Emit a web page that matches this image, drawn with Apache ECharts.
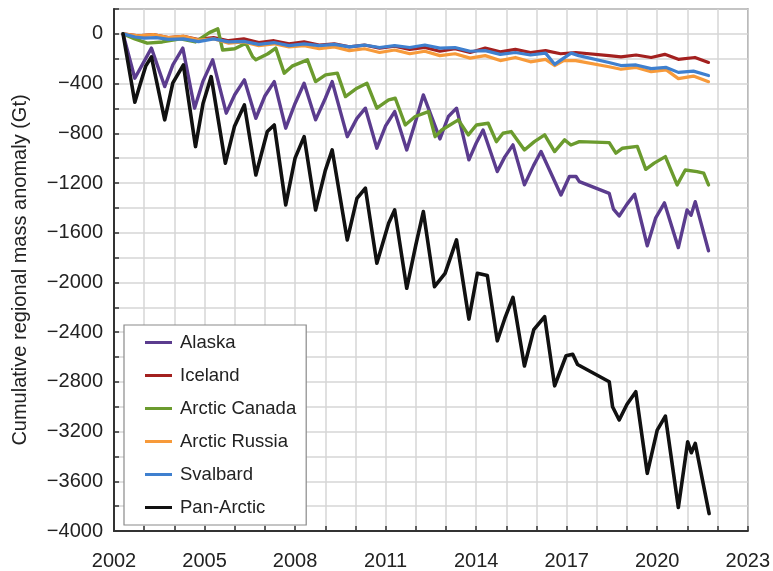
<!DOCTYPE html>
<html>
<head>
<meta charset="utf-8">
<script src="https://cdn.jsdelivr.net/npm/echarts@6/dist/echarts.min.js"></script>
<style>
html,body{margin:0;padding:0;background:#fff;}
#chart{width:773px;height:571px;}
</style>
</head>
<body>
<div id="chart"></div>
<script>
// ---- data (year, Gt) ----
const seriesNames = ['Alaska', 'Iceland', 'Arctic Canada', 'Arctic Russia', 'Svalbard', 'Pan-Arctic'];

const alaska = [[2002.3,0],[2002.69,-357],[2003.24,-115],[2003.68,-424],[2003.95,-250],[2004.28,-115],[2004.67,-598],[2004.95,-380],[2005.27,-209],[2005.72,-638],[2006.0,-490],[2006.32,-370],[2006.7,-679],[2007.0,-500],[2007.31,-384],[2007.69,-759],[2008.0,-560],[2008.3,-397],[2008.68,-692],[2009.0,-520],[2009.23,-384],[2009.73,-827],[2010.05,-680],[2010.33,-598],[2010.71,-920],[2011.0,-740],[2011.3,-625],[2011.7,-934],[2012.0,-700],[2012.25,-491],[2012.8,-845],[2013.08,-665],[2013.35,-598],[2013.76,-1014],[2014.0,-880],[2014.23,-773],[2014.7,-1108],[2014.95,-990],[2015.22,-893],[2015.6,-1215],[2015.9,-1060],[2016.15,-947],[2016.81,-1296],[2017.09,-1148],[2017.31,-1148],[2017.42,-1189],[2018.41,-1283],[2018.55,-1410],[2018.74,-1465],[2019.0,-1370],[2019.25,-1290],[2019.67,-1705],[2019.95,-1480],[2020.24,-1360],[2020.7,-1720],[2020.99,-1417],[2021.12,-1460],[2021.26,-1350],[2021.7,-1745]];

const iceland = [[2002.3,0],[2002.8,-15],[2003.3,-5],[2003.8,-30],[2004.3,-20],[2004.8,-45],[2005.3,-30],[2005.8,-55],[2006.3,-40],[2006.8,-70],[2007.3,-55],[2007.8,-80],[2008.3,-65],[2008.8,-90],[2009.3,-80],[2009.8,-105],[2010.3,-90],[2010.8,-115],[2011.3,-100],[2011.8,-125],[2012.3,-110],[2012.8,-140],[2013.3,-120],[2013.8,-150],[2014.3,-115],[2014.8,-145],[2015.3,-125],[2015.8,-150],[2016.3,-135],[2016.8,-160],[2017.3,-150],[2018.4,-175],[2018.8,-185],[2019.3,-170],[2019.8,-190],[2020.25,-165],[2020.7,-205],[2021.25,-190],[2021.7,-230]];

const arcticCanada = [[2002.3,0],[2002.69,-40],[2003.1,-75],[2003.6,-65],[2004.2,-40],[2004.7,-65],[2005.16,10],[2005.44,40],[2005.6,-130],[2006.0,-120],[2006.37,-75],[2006.59,-183],[2006.7,-209],[2007.1,-160],[2007.36,-115],[2007.64,-316],[2007.9,-260],[2008.41,-209],[2008.68,-384],[2009.01,-330],[2009.4,-316],[2009.67,-505],[2010.05,-437],[2010.38,-397],[2010.71,-598],[2011.1,-531],[2011.32,-518],[2011.65,-733],[2011.98,-665],[2012.42,-625],[2012.64,-827],[2012.86,-773],[2013.41,-692],[2013.74,-813],[2014.01,-733],[2014.4,-719],[2014.67,-867],[2014.89,-800],[2015.16,-786],[2015.6,-934],[2015.93,-867],[2016.27,-813],[2016.6,-947],[2016.93,-853],[2017.14,-894],[2017.42,-867],[2018.41,-875],[2018.63,-960],[2018.85,-920],[2019.34,-905],[2019.62,-1090],[2019.9,-1040],[2020.27,-988],[2020.66,-1215],[2020.93,-1095],[2021.32,-1108],[2021.54,-1121],[2021.7,-1215]];

const arcticRussia = [[2002.3,0],[2002.8,-15],[2003.3,-5],[2003.8,-30],[2004.3,-20],[2004.8,-50],[2005.3,-40],[2005.8,-75],[2006.3,-65],[2006.8,-95],[2007.3,-80],[2007.8,-105],[2008.3,-95],[2008.8,-120],[2009.3,-105],[2009.8,-135],[2010.3,-120],[2010.8,-150],[2011.3,-130],[2011.8,-160],[2012.3,-140],[2012.8,-175],[2013.3,-160],[2013.8,-195],[2014.3,-175],[2014.8,-215],[2015.3,-190],[2015.8,-225],[2016.3,-205],[2016.6,-255],[2016.9,-215],[2017.3,-215],[2018.4,-265],[2018.8,-285],[2019.3,-270],[2019.8,-305],[2020.3,-290],[2020.7,-360],[2021.2,-340],[2021.7,-385]];

const svalbard = [[2002.3,0],[2002.7,-25],[2003.0,-35],[2003.4,-30],[2003.8,-45],[2004.3,-40],[2004.8,-62],[2005.3,-40],[2005.8,-65],[2006.3,-60],[2006.8,-85],[2007.3,-70],[2007.8,-95],[2008.3,-80],[2008.8,-95],[2009.3,-85],[2009.8,-105],[2010.3,-90],[2010.8,-110],[2011.3,-95],[2011.8,-110],[2012.3,-90],[2012.8,-115],[2013.3,-110],[2013.8,-140],[2014.3,-135],[2014.8,-165],[2015.3,-150],[2015.8,-170],[2016.3,-155],[2016.6,-245],[2016.9,-195],[2017.15,-155],[2017.4,-175],[2018.4,-230],[2018.8,-255],[2019.3,-250],[2019.8,-280],[2020.3,-270],[2020.7,-310],[2021.2,-300],[2021.7,-335]];

const panArctic = [[2002.3,0],[2002.69,-550],[2002.85,-420],[2003.05,-260],[2003.24,-185],[2003.68,-692],[2003.95,-395],[2004.3,-250],[2004.7,-907],[2004.95,-560],[2005.22,-344],[2005.69,-1040],[2005.99,-746],[2006.32,-572],[2006.7,-1135],[2007.08,-786],[2007.31,-733],[2007.69,-1376],[2008.0,-1000],[2008.3,-827],[2008.68,-1417],[2009.0,-1100],[2009.23,-934],[2009.73,-1658],[2010.05,-1323],[2010.33,-1242],[2010.71,-1846],[2011.1,-1524],[2011.3,-1417],[2011.7,-2047],[2012.0,-1700],[2012.25,-1430],[2012.62,-2034],[2012.97,-1927],[2013.35,-1658],[2013.76,-2295],[2014.04,-1927],[2014.37,-1945],[2014.7,-2470],[2014.95,-2290],[2015.22,-2120],[2015.6,-2672],[2015.91,-2380],[2016.27,-2276],[2016.6,-2832],[2016.98,-2590],[2017.2,-2578],[2017.36,-2660],[2018.41,-2799],[2018.52,-3000],[2018.74,-3107],[2019.0,-2980],[2019.29,-2879],[2019.67,-3536],[2020.0,-3188],[2020.27,-3075],[2020.7,-3810],[2021.01,-3282],[2021.13,-3370],[2021.26,-3295],[2021.72,-3860]];

const seriesData = [alaska, iceland, arcticCanada, arcticRussia, svalbard, panArctic];
const seriesColors = ['#5b3c8e', '#a3201f', '#6b9b2e', '#f79a3a', '#3f80cf', '#111111'];
const seriesWidths = [3.4, 3.2, 3.4, 3.2, 3.2, 3.6];

const xTickLabels = [2002, 2005, 2008, 2011, 2014, 2017, 2020, 2023];
const yTickLabels = [0, -400, -800, -1200, -1600, -2000, -2400, -2800, -3200, -3600, -4000];

const FONT = '"Liberation Sans", Arial, Helvetica, sans-serif';

const chart = echarts.init(document.getElementById('chart'), null, {renderer: 'canvas'});

chart.setOption({
  animation: false,
  backgroundColor: '#ffffff',
  grid: {
    left: 114, right: 22, top: 9, bottom: 40,
    show: true, borderColor: '#6a6a6a', borderWidth: 1.5, backgroundColor: 'transparent'
  },
  xAxis: {
    type: 'value', min: 2002, max: 2023, interval: 1,
    axisLine: {show: true, onZero: false, lineStyle: {color: '#333', width: 2}},
    axisTick: {show: true, inside: true, length: 5, lineStyle: {color: '#333', width: 1.5}},
    splitLine: {show: true, lineStyle: {color: '#d6d6d6', width: 1.5}},
    axisLabel: {
      margin: 20, fontSize: 20, color: '#222', fontFamily: FONT,
      formatter: function (v) { return xTickLabels.indexOf(Math.round(v)) >= 0 ? String(Math.round(v)) : ''; }
    }
  },
  yAxis: {
    type: 'value', min: -4000, max: 200, interval: 200,
    name: 'Cumulative regional mass anomaly (Gt)',
    nameLocation: 'middle', nameGap: 84,
    nameTextStyle: {fontSize: 20, color: '#222', fontFamily: FONT},
    axisLine: {show: true, lineStyle: {color: '#333', width: 2}},
    axisTick: {show: true, inside: true, length: 5, lineStyle: {color: '#333', width: 1.5}},
    splitLine: {show: true, lineStyle: {color: '#d6d6d6', width: 1.5}},
    axisLabel: {
      margin: 11, fontSize: 20, color: '#222', fontFamily: FONT,
      formatter: function (v) {
        const r = Math.round(v);
        if (yTickLabels.indexOf(r) < 0) return '';
        return r < 0 ? '\u2212' + Math.abs(r) : String(r);
      }
    }
  },
  legend: {
    orient: 'vertical', left: 124, top: 325,
    width: 183,
    padding: [8, 10, 8, 21],
    itemGap: 14, itemWidth: 27, itemHeight: 3,
    icon: 'rect',
    backgroundColor: '#ffffff', borderColor: '#8a8a8a', borderWidth: 1.2,
    textStyle: {fontSize: 18.5, color: '#222', fontFamily: FONT, padding: [0, 0, 0, 3]},
    data: seriesNames
  },
  series: seriesNames.map(function (name, i) {
    return {
      name: name, type: 'line', data: seriesData[i],
      showSymbol: false, symbol: 'none',
      color: seriesColors[i],
      lineStyle: {color: seriesColors[i], width: seriesWidths[i], join: 'round', cap: 'round'},
      z: 2 + i
    };
  })
});
</script>
</body>
</html>
